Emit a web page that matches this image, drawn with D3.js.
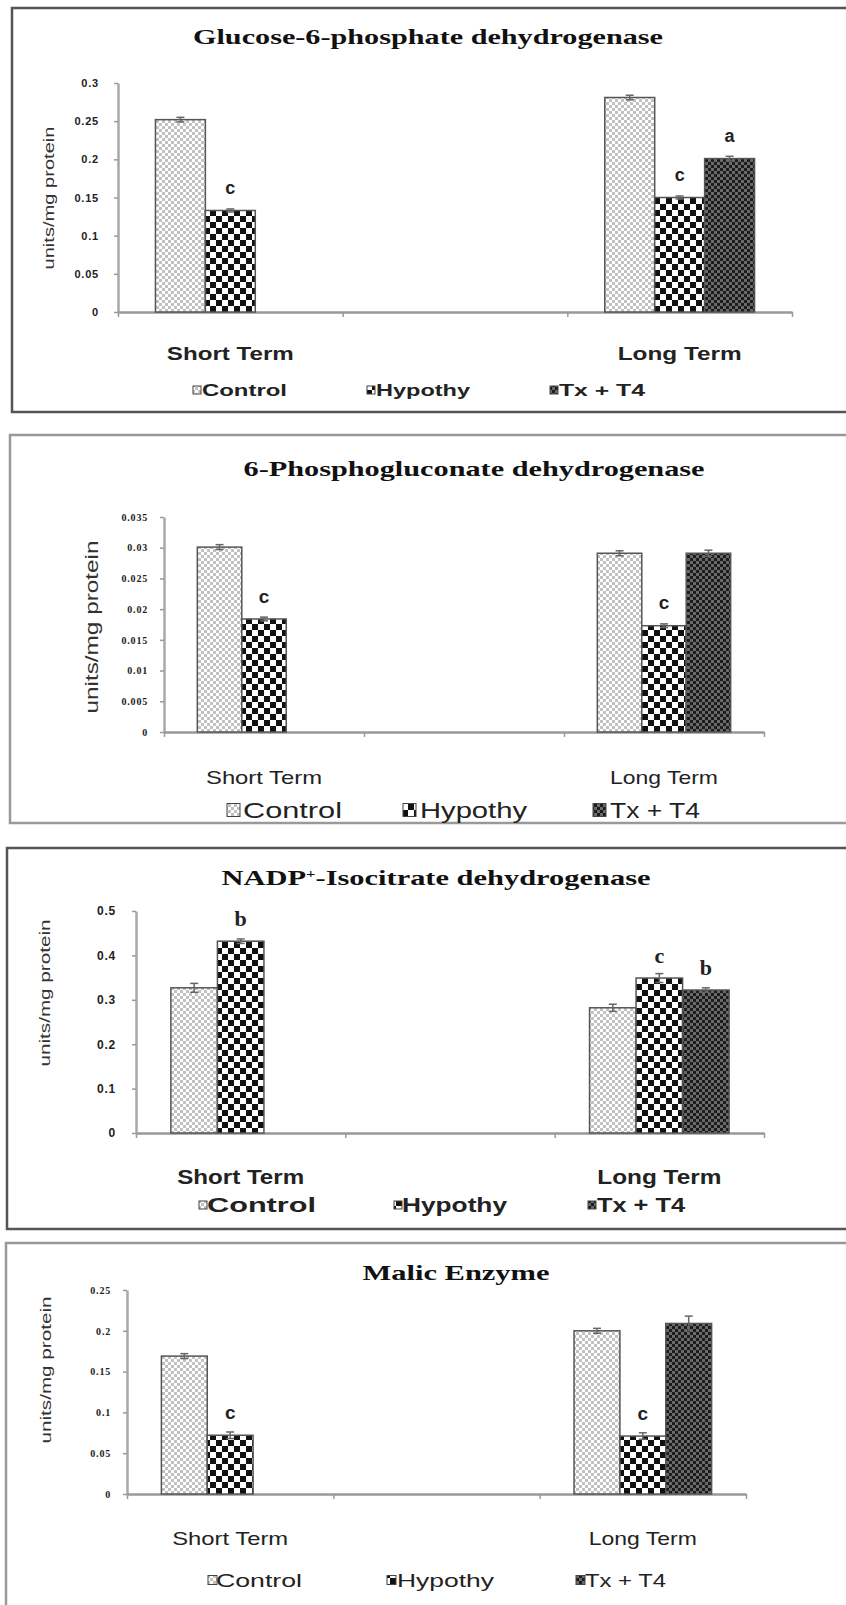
<!DOCTYPE html>
<html>
<head>
<meta charset="utf-8">
<script src="https://cdn.jsdelivr.net/npm/d3@7"></script>
<style>
  body { margin: 0; background: #fff; }
  svg { display: block; }
</style>
</head>
<body>
<div id="chart"></div>
<script>
// categories and series
const groups = ["Short Term", "", "Long Term"];
const seriesNames = ["Control", "Hypothy", "Tx + T4"];

// Glucose-6-phosphate dehydrogenase
const g6pdTicks = [0, 0.05, 0.1, 0.15, 0.2, 0.25, 0.3];
const g6pdControl = [0.252, null, 0.281];
const g6pdHypothy = [0.133, null, 0.150];
const g6pdTxT4 = [null, null, 0.201];
const g6pdErrControl = [0.003, null, 0.003];
const g6pdErrHypothy = [0.002, null, 0.002];
const g6pdErrTxT4 = [null, null, 0.003];
const g6pdLetHypothy = ["c", null, "c"];
const g6pdLetTxT4 = [null, null, "a"];

// 6-Phosphogluconate dehydrogenase
const pgdTicks = [0, 0.005, 0.01, 0.015, 0.02, 0.025, 0.03, 0.035];
const pgdControl = [0.0301, null, 0.0291];
const pgdHypothy = [0.0184, null, 0.0173];
const pgdTxT4 = [null, null, 0.0291];
const pgdErrControl = [0.0004, null, 0.0004];
const pgdErrHypothy = [0.0003, null, 0.0003];
const pgdErrTxT4 = [null, null, 0.0005];
const pgdLetHypothy = ["c", null, "c"];
const pgdLetTxT4 = [null, null, null];

// NADP+-Isocitrate dehydrogenase
const icdTicks = [0, 0.1, 0.2, 0.3, 0.4, 0.5];
const icdControl = [0.327, null, 0.282];
const icdHypothy = [0.432, null, 0.349];
const icdTxT4 = [null, null, 0.322];
const icdErrControl = [0.01, null, 0.008];
const icdErrHypothy = [0.005, null, 0.01];
const icdErrTxT4 = [null, null, 0.005];
const icdLetHypothy = ["b", null, "c"];
const icdLetTxT4 = [null, null, "b"];

// Malic Enzyme
const meTicks = [0, 0.05, 0.1, 0.15, 0.2, 0.25];
const meControl = [0.169, null, 0.200];
const meHypothy = [0.072, null, 0.071];
const meTxT4 = [null, null, 0.209];
const meErrControl = [0.003, null, 0.003];
const meErrHypothy = [0.004, null, 0.004];
const meErrTxT4 = [null, null, 0.009];
const meLetHypothy = ["c", null, "c"];
const meLetTxT4 = [null, null, null];

const sans = "'Liberation Sans', Arial, sans-serif";
const serif = "'Liberation Serif', 'Times New Roman', serif";
const ink = "#222";

// layout of the four panels
const panels = [
  {
    title: ["Glucose-6-phosphate  dehydrogenase"], titleX: 428, titleY: 36, titleLen: 470, titleSize: 22,
    box: [12, 8, 404], boxColor: "#555",
    axisX: 118, axisEnd: 792, yTop: 83, yZero: 312, ticks: g6pdTicks, tickPad: 15, tickSize: 11, tickFont: sans,
    values: [g6pdControl, g6pdHypothy, g6pdTxT4], errs: [g6pdErrControl, g6pdErrHypothy, g6pdErrTxT4],
    letters: [[null, null, null], g6pdLetHypothy, g6pdLetTxT4], letSize: 18, letFont: sans,
    yLabX: 49, yLabY: 198, yLabLen: 143, yLabSize: 14, yLabFont: sans,
    catY: 353, catLen: [127, 124], catSize: 19, catWeight: "bold",
    legY: 390, legSize: 17, legWeight: "bold", sw: 8, legItems: [[193, 202, 287], [367, 376, 470], [550, 559, 645]]
  },
  {
    title: ["6-Phosphogluconate dehydrogenase"], titleX: 474, titleY: 468, titleLen: 461, titleSize: 22,
    box: [10, 435, 388], boxColor: "#999",
    axisX: 164, axisEnd: 764, yTop: 517, yZero: 732, ticks: pgdTicks, tickPad: 12, tickSize: 10, tickFont: serif,
    values: [pgdControl, pgdHypothy, pgdTxT4], errs: [pgdErrControl, pgdErrHypothy, pgdErrTxT4],
    letters: [[null, null, null], pgdLetHypothy, pgdLetTxT4], letSize: 19, letFont: sans,
    yLabX: 92, yLabY: 627, yLabLen: 173, yLabSize: 18, yLabFont: sans,
    catY: 777, catLen: [116, 108], catSize: 19, catWeight: "normal",
    legY: 810, legSize: 22, legWeight: "normal", sw: 13, legItems: [[227, 243, 342], [403, 420, 527], [593, 610, 700]]
  },
  {
    title: ["NADP", "+", "-Isocitrate dehydrogenase"], titleX: 436, titleY: 877, titleLen: 429, titleSize: 22,
    box: [7, 848, 381], boxColor: "#555",
    axisX: 136, axisEnd: 764, yTop: 911, yZero: 1133, ticks: icdTicks, tickPad: 16, tickSize: 12, tickFont: sans,
    values: [icdControl, icdHypothy, icdTxT4], errs: [icdErrControl, icdErrHypothy, icdErrTxT4],
    letters: [[null, null, null], icdLetHypothy, icdLetTxT4], letSize: 22, letFont: serif,
    yLabX: 45, yLabY: 993, yLabLen: 147, yLabSize: 14, yLabFont: sans,
    catY: 1177, catLen: [127, 124], catSize: 20, catWeight: "bold",
    legY: 1205, legSize: 20, legWeight: "bold", sw: 8, legItems: [[199, 207, 316], [394, 402, 507], [588, 597, 685]]
  },
  {
    title: ["Malic Enzyme"], titleX: 456, titleY: 1273, titleLen: 187, titleSize: 21,
    box: [6, 1243, 420], boxColor: "#999",
    axisX: 127, axisEnd: 746, yTop: 1290, yZero: 1494, ticks: meTicks, tickPad: 12, tickSize: 10, tickFont: serif,
    values: [meControl, meHypothy, meTxT4], errs: [meErrControl, meErrHypothy, meErrTxT4],
    letters: [[null, null, null], meLetHypothy, meLetTxT4], letSize: 19, letFont: sans,
    yLabX: 46, yLabY: 1370, yLabLen: 147, yLabSize: 14, yLabFont: sans,
    catY: 1538, catLen: [116, 108], catSize: 19, catWeight: "normal",
    legY: 1580, legSize: 19, legWeight: "normal", sw: 9, legItems: [[208, 216, 302], [387, 397, 494], [576, 585, 666]]
  }
];

const svg = d3.select("#chart").append("svg")
  .attr("width", 846)
  .attr("height", 1605);

// fill patterns for the three groups
const defs = svg.append("defs");
const patControl = defs.append("pattern").attr("id", "pControl")
  .attr("patternUnits", "userSpaceOnUse").attr("width", 6).attr("height", 6);
patControl.append("rect").attr("width", 6).attr("height", 6).attr("fill", "#fff");
patControl.append("rect").attr("width", 3).attr("height", 3).attr("fill", "#c2c2c2");
patControl.append("rect").attr("x", 3).attr("y", 3).attr("width", 3).attr("height", 3).attr("fill", "#c2c2c2");

const patHypo = defs.append("pattern").attr("id", "pHypothy")
  .attr("patternUnits", "userSpaceOnUse").attr("width", 12).attr("height", 12);
patHypo.append("rect").attr("width", 12).attr("height", 12).attr("fill", "#fff");
patHypo.append("rect").attr("width", 6).attr("height", 6).attr("fill", "#111");
patHypo.append("rect").attr("x", 6).attr("y", 6).attr("width", 6).attr("height", 6).attr("fill", "#111");

const patTx = defs.append("pattern").attr("id", "pTx")
  .attr("patternUnits", "userSpaceOnUse").attr("width", 6).attr("height", 6);
patTx.append("rect").attr("width", 6).attr("height", 6).attr("fill", "#6a6a6a");
patTx.append("rect").attr("width", 3).attr("height", 3).attr("fill", "#1c1c1c");
patTx.append("rect").attr("x", 3).attr("y", 3).attr("width", 3).attr("height", 3).attr("fill", "#1c1c1c");

const fills = ["url(#pControl)", "url(#pHypothy)", "url(#pTx)"];

const fmt = d => String(+d.toFixed(4));

panels.forEach(p => {
  const g = svg.append("g");

  // panel frame (runs off the right edge)
  g.append("rect")
    .attr("x", p.box[0]).attr("y", p.box[1])
    .attr("width", 860).attr("height", p.box[2])
    .attr("fill", "none")
    .attr("stroke", p.boxColor)
    .attr("stroke-width", 2.5);

  // title
  const t = g.append("text")
    .attr("x", p.titleX).attr("y", p.titleY)
    .attr("dy", "0.35em")
    .attr("text-anchor", "middle")
    .attr("font-family", serif)
    .attr("font-weight", "bold")
    .attr("font-size", p.titleSize)
    .attr("fill", "#111")
    .attr("textLength", p.titleLen)
    .attr("lengthAdjust", "spacingAndGlyphs");
  if (p.title.length === 1) {
    t.text(p.title[0]);
  } else {
    t.append("tspan").text(p.title[0]);
    t.append("tspan").attr("baseline-shift", "super").attr("font-size", 12).text(p.title[1]);
    t.append("tspan").text(p.title[2]);
  }

  const yMax = p.ticks[p.ticks.length - 1];
  const y = d3.scaleLinear().domain([0, yMax]).range([p.yZero, p.yTop]);
  const x0 = d3.scaleBand().domain(groups).range([p.axisX, p.axisEnd]).padding(0);
  const bw = x0.bandwidth();
  const x1 = d3.scaleBand().domain(seriesNames).range([bw / 6, bw * 5 / 6]).padding(0);

  // y axis
  const yAxis = g.append("g")
    .attr("transform", `translate(${p.axisX},0)`)
    .call(d3.axisLeft(y).tickValues(p.ticks).tickFormat(fmt).tickSize(4).tickSizeOuter(0).tickPadding(p.tickPad));
  yAxis.select(".domain").attr("stroke", "#a8a8a8").attr("stroke-width", 2.5);
  yAxis.selectAll(".tick line").attr("stroke", "#999").attr("stroke-width", 1.5);
  yAxis.selectAll(".tick text")
    .attr("font-family", p.tickFont)
    .attr("font-weight", "bold")
    .attr("font-size", p.tickSize)
    .attr("letter-spacing", 0.8)
    .attr("fill", ink);

  // x axis: category boundaries
  const xb = d3.scaleLinear().domain([0, groups.length]).range([p.axisX, p.axisEnd]);
  const xAxis = g.append("g")
    .attr("transform", `translate(0,${p.yZero})`)
    .call(d3.axisBottom(xb).tickValues(d3.range(groups.length + 1)).tickFormat("").tickSize(5).tickSizeOuter(0));
  xAxis.select(".domain").attr("stroke", "#999").attr("stroke-width", 2.5);
  xAxis.selectAll(".tick line").attr("stroke", "#999").attr("stroke-width", 1.5);

  // bars
  seriesNames.forEach((s, si) => {
    const rows = groups.map((gr, gi) => ({
      gr: gr, v: p.values[si][gi], e: p.errs[si][gi], l: p.letters[si][gi]
    })).filter(d => d.v !== null);

    g.append("g").selectAll("rect")
      .data(rows)
      .enter()
      .append("rect")
      .attr("x", d => x0(d.gr) + x1(s))
      .attr("y", d => y(d.v))
      .attr("width", x1.bandwidth())
      .attr("height", d => y(0) - y(d.v))
      .attr("fill", fills[si])
      .attr("stroke", "#555")
      .attr("stroke-width", 1.5);

    // error bars
    const eb = g.append("g").selectAll("g")
      .data(rows.filter(d => d.e))
      .enter()
      .append("g")
      .attr("stroke", "#666")
      .attr("stroke-width", 1.5);
    const cx = d => x0(d.gr) + x1(s) + x1.bandwidth() / 2;
    eb.append("line")
      .attr("x1", cx).attr("x2", cx)
      .attr("y1", d => y(d.v - d.e)).attr("y2", d => y(d.v + d.e));
    eb.append("line")
      .attr("x1", d => cx(d) - 4).attr("x2", d => cx(d) + 4)
      .attr("y1", d => y(d.v + d.e)).attr("y2", d => y(d.v + d.e));
    eb.append("line")
      .attr("x1", d => cx(d) - 4).attr("x2", d => cx(d) + 4)
      .attr("y1", d => y(d.v - d.e)).attr("y2", d => y(d.v - d.e));

    // significance letters
    g.append("g").selectAll("text")
      .data(rows.filter(d => d.l))
      .enter()
      .append("text")
      .attr("x", cx)
      .attr("y", d => y(d.v) - 23)
      .attr("dy", "0.35em")
      .attr("text-anchor", "middle")
      .attr("font-family", p.letFont)
      .attr("font-weight", "bold")
      .attr("font-size", p.letSize)
      .attr("fill", ink)
      .text(d => d.l);
  });

  // y axis title
  g.append("text")
    .attr("transform", `translate(${p.yLabX},${p.yLabY}) rotate(-90)`)
    .attr("dy", "0.35em")
    .attr("text-anchor", "middle")
    .attr("font-family", sans)
    .attr("font-size", p.yLabSize)
    .attr("fill", "#333")
    .attr("textLength", p.yLabLen)
    .attr("lengthAdjust", "spacingAndGlyphs")
    .text("units/mg protein");

  // category labels
  const cats = groups.filter(d => d !== "");
  g.append("g").selectAll("text")
    .data(cats)
    .enter()
    .append("text")
    .attr("x", d => x0(d) + bw / 2)
    .attr("y", p.catY)
    .attr("dy", "0.35em")
    .attr("text-anchor", "middle")
    .attr("font-family", sans)
    .attr("font-size", p.catSize)
    .attr("font-weight", p.catWeight)
    .attr("fill", ink)
    .attr("textLength", (d, i) => p.catLen[i])
    .attr("lengthAdjust", "spacingAndGlyphs")
    .text(d => d);

  // legend
  const leg = g.append("g").selectAll("g")
    .data(seriesNames)
    .enter()
    .append("g");
  leg.append("rect")
    .attr("x", (d, i) => p.legItems[i][0])
    .attr("y", p.legY - p.sw / 2)
    .attr("width", p.sw)
    .attr("height", p.sw)
    .attr("fill", (d, i) => fills[i])
    .attr("stroke", "#444")
    .attr("stroke-width", 1);
  leg.append("text")
    .attr("x", (d, i) => p.legItems[i][1])
    .attr("y", p.legY)
    .attr("dy", "0.35em")
    .attr("font-family", sans)
    .attr("font-size", p.legSize)
    .attr("font-weight", p.legWeight)
    .attr("fill", ink)
    .attr("textLength", (d, i) => p.legItems[i][2] - p.legItems[i][1])
    .attr("lengthAdjust", "spacingAndGlyphs")
    .text(d => d);
});
</script>
</body>
</html>
